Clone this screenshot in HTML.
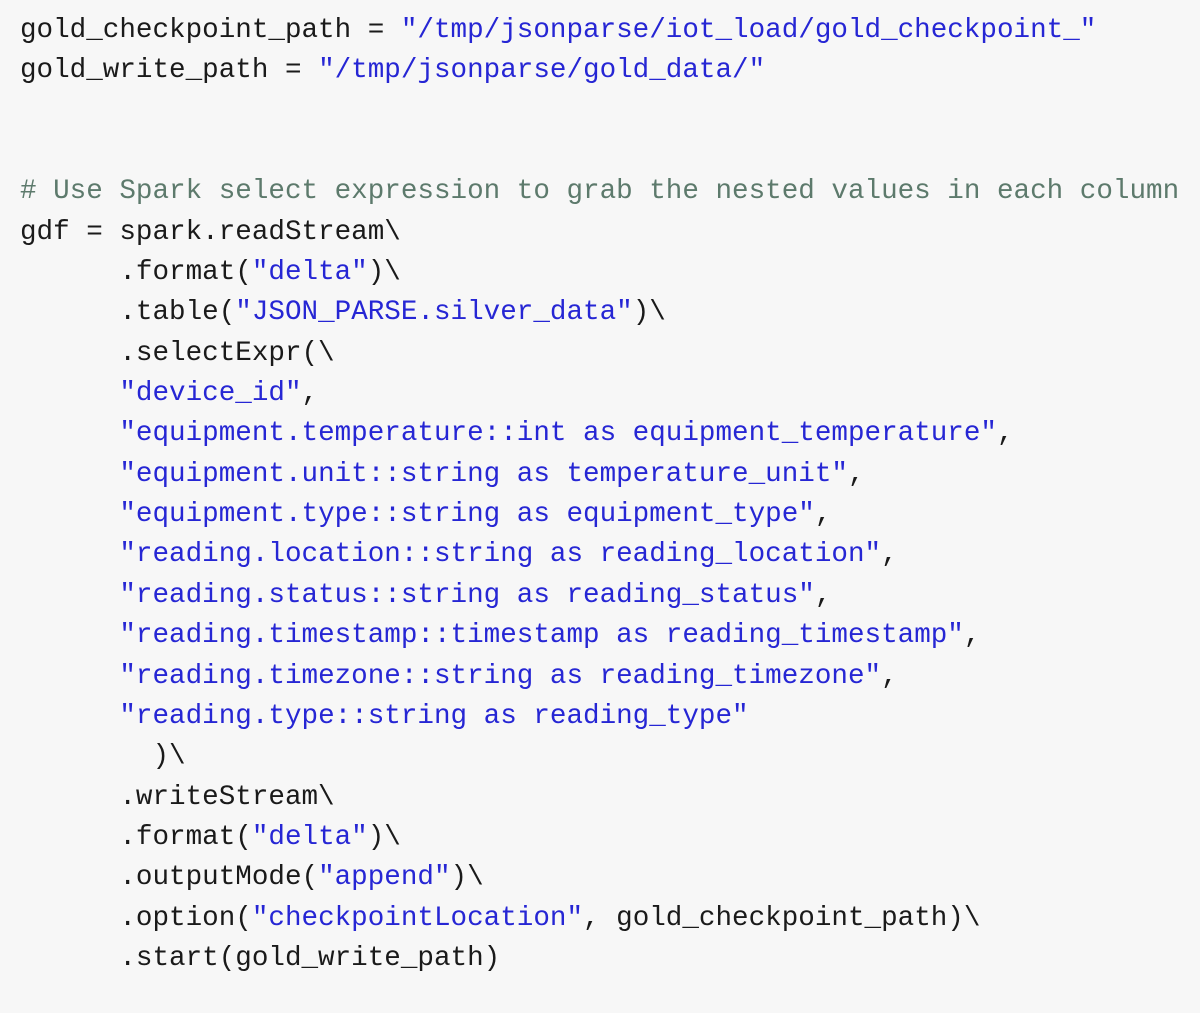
<!DOCTYPE html>
<html><head><meta charset="utf-8"><style>
html,body{margin:0;padding:0;background:#f7f7f7;width:1200px;height:1013px;overflow:hidden}
pre{margin:0;position:absolute;left:20px;top:11px;font-family:"Liberation Mono",monospace;font-size:27.6px;line-height:40.35px;color:#1a1a1a;white-space:pre}
.s{color:#2626d4}.c{color:#5d7a6c}
</style></head><body>
<pre>gold_checkpoint_path = <span class="s">"/tmp/jsonparse/iot_load/gold_checkpoint_"</span>
gold_write_path = <span class="s">"/tmp/jsonparse/gold_data/"</span>


<span class="c"># Use Spark select expression to grab the nested values in each column</span>
gdf = spark.readStream\
      .format(<span class="s">"delta"</span>)\
      .table(<span class="s">"JSON_PARSE.silver_data"</span>)\
      .selectExpr(\
      <span class="s">"device_id"</span>,
      <span class="s">"equipment.temperature::int as equipment_temperature"</span>,
      <span class="s">"equipment.unit::string as temperature_unit"</span>,
      <span class="s">"equipment.type::string as equipment_type"</span>,
      <span class="s">"reading.location::string as reading_location"</span>,
      <span class="s">"reading.status::string as reading_status"</span>,
      <span class="s">"reading.timestamp::timestamp as reading_timestamp"</span>,
      <span class="s">"reading.timezone::string as reading_timezone"</span>,
      <span class="s">"reading.type::string as reading_type"</span>
        )\
      .writeStream\
      .format(<span class="s">"delta"</span>)\
      .outputMode(<span class="s">"append"</span>)\
      .option(<span class="s">"checkpointLocation"</span>, gold_checkpoint_path)\
      .start(gold_write_path)</pre>
</body></html>
